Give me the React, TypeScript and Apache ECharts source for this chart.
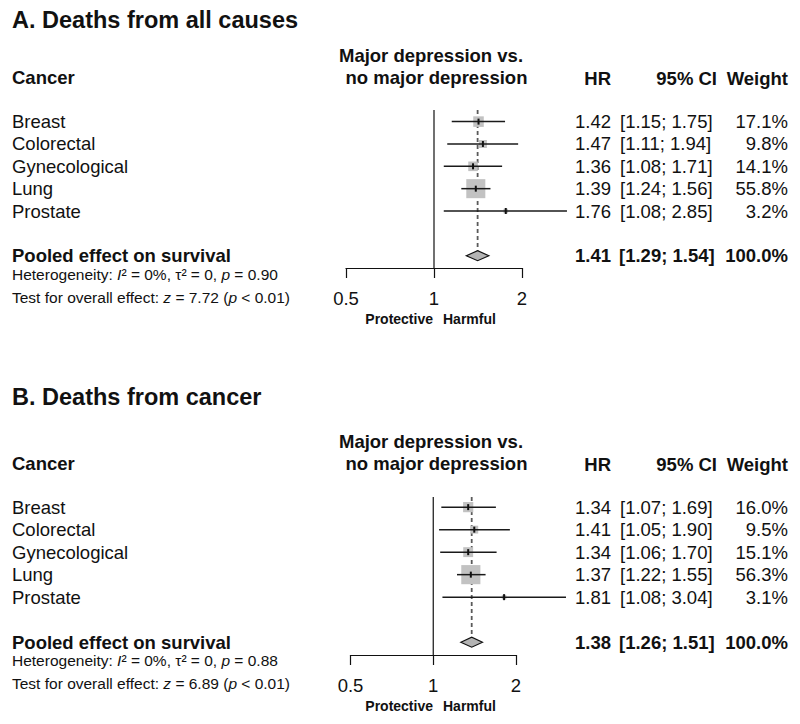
import React, { useEffect, useRef } from 'react';
import * as echarts from 'echarts';

// ---------- data ----------
const cancers = ['Breast', 'Colorectal', 'Gynecological', 'Lung', 'Prostate'];

const hrA = [1.42, 1.47, 1.36, 1.39, 1.76];
const lowA = [1.15, 1.11, 1.08, 1.24, 1.08];
const highA = [1.75, 1.94, 1.71, 1.56, 2.85];
const weightA = [17.1, 9.8, 14.1, 55.8, 3.2];
const pooledA = [1.41, 1.29, 1.54];
const hetA = ['0%', '0', '0.90'];
const testA = ['7.72', '< 0.01'];

const hrB = [1.34, 1.41, 1.34, 1.37, 1.81];
const lowB = [1.07, 1.05, 1.06, 1.22, 1.08];
const highB = [1.69, 1.90, 1.70, 1.55, 3.04];
const weightB = [16.0, 9.5, 15.1, 56.3, 3.1];
const pooledB = [1.38, 1.26, 1.51];
const hetB = ['0%', '0', '0.88'];
const testB = ['6.89', '< 0.01'];

const titles = ['A. Deaths from all causes', 'B. Deaths from cancer'];
const xRange = [0.5, 2];
const pooledRow = 6;

// ---------- layout ----------
const FONT = '"Liberation Sans", Arial, Helvetica, sans-serif';
const INK = '#111111';
const panels = [
  { left: 346, width: 176, top: 110, height: 158, yMin: -0.52, yMax: 6.55, dy: 0, titleY: 20 },
  { left: 350.5, width: 165.5, top: 497, height: 158, yMin: -0.45, yMax: 6.57, dy: 386.5, titleY: 397 },
];
const COL_HR = 611;
const COL_CI = 620;
const COL_W = 788;
const BODY = 18.5;

function txt(x: number, y: number, text: string, opts: any = {}) {
  return {
    type: 'text',
    x,
    y,
    style: {
      text,
      fill: INK,
      fontFamily: FONT,
      fontSize: opts.size || BODY,
      fontWeight: opts.bold ? 'bold' : 'normal',
      align: opts.align || 'left',
      verticalAlign: 'middle',
      textAlign: opts.align || 'left',
      textVerticalAlign: 'middle',
    },
    silent: true,
  };
}

function richLine(x: number, y: number, parts: [string, boolean][]) {
  const base = { fontFamily: FONT, fontSize: 15.5, fill: INK, fontStyle: 'normal' };
  const text = parts.map(([s, it]) => `{${it ? 'i' : 'n'}|${s}}`).join('');
  return {
    type: 'text',
    x,
    y,
    silent: true,
    style: {
      text,
      fontFamily: FONT,
      fontSize: 15.5,
      fill: INK,
      verticalAlign: 'middle',
      textVerticalAlign: 'middle',
      rich: {
        n: { ...base },
        i: { ...base, fontStyle: 'italic' },
      },
    },
  };
}

const fmt2 = (v: number) => v.toFixed(2);
const ciText = (l: number, h: number) => `[${fmt2(l)}; ${fmt2(h)}]`;

export default function App() {
  const ref = useRef<HTMLDivElement>(null);

  useEffect(() => {
    if (!ref.current) return;
    const chart = echarts.init(ref.current, undefined, { renderer: 'svg' });

    const sets = [
      { hr: hrA, low: lowA, high: highA, w: weightA, pooled: pooledA, het: hetA, test: testA },
      { hr: hrB, low: lowB, high: highB, w: weightB, pooled: pooledB, het: hetB, test: testB },
    ];

    const grid: any[] = [];
    const xAxis: any[] = [];
    const yAxis: any[] = [];
    const series: any[] = [];
    const graphic: any[] = [];

    sets.forEach((s, pi) => {
      const P = panels[pi];
      grid.push({ left: P.left, top: P.top, width: P.width, height: P.height, containLabel: false, outerBoundsMode: 'none' });
      xAxis.push({
        type: 'log',
        logBase: 2,
        gridIndex: pi,
        position: 'bottom',
        min: xRange[0],
        max: xRange[1],
        axisLine: { show: true, onZero: false, lineStyle: { color: INK, width: 1.2 } },
        axisTick: { show: true, length: 10, lineStyle: { color: INK, width: 1.2 } },
        minorTick: { show: false },
        splitLine: { show: false },
        axisLabel: {
          fontSize: BODY,
          fontFamily: FONT,
          color: INK,
          margin: 21,
          formatter: (v: number) => `${+(+v).toFixed(2)}`,
        },
      });
      yAxis.push({ type: 'value', gridIndex: pi, min: P.yMin, max: P.yMax, inverse: true, show: false });

      // reference line at 1 and dashed line at pooled estimate
      series.push({
        type: 'custom',
        xAxisIndex: pi,
        yAxisIndex: pi,
        clip: false,
        silent: true,
        z: 1,
        data: [[s.pooled[0], pooledRow]],
        renderItem: (params: any, api: any) => {
          const top1 = api.coord([1, P.yMin]);
          const bot1 = api.coord([1, P.yMax]);
          const topP = api.coord([api.value(0), P.yMin]);
          const botP = api.coord([api.value(0), api.value(1)]);
          return {
            type: 'group',
            children: [
              { type: 'line', shape: { x1: top1[0], y1: top1[1], x2: bot1[0], y2: bot1[1] }, style: { stroke: INK, lineWidth: 1.2 } },
              {
                type: 'line',
                shape: { x1: topP[0], y1: topP[1], x2: botP[0], y2: botP[1] - 5 },
                style: { stroke: '#5a5a5a', lineWidth: 1.8, lineDash: [4, 3] },
              },
            ],
          };
        },
      });

      // individual studies
      series.push({
        type: 'custom',
        xAxisIndex: pi,
        yAxisIndex: pi,
        clip: false,
        silent: true,
        z: 2,
        encode: { x: 0, y: 1 },
        data: cancers.map((c, k) => [s.hr[k], k, s.low[k], s.high[k], s.w[k]]),
        renderItem: (params: any, api: any) => {
          const k = params.dataIndex;
          const r = api.value(1);
          const p = api.coord([api.value(0), r]);
          const pl = api.coord([api.value(2), r]);
          const ph = api.coord([api.value(3), r]);
          const side = 2.55 * Math.sqrt(api.value(4));
          const y = p[1];
          return {
            type: 'group',
            children: [
              { type: 'rect', shape: { x: p[0] - side / 2, y: y - side / 2, width: side, height: side }, style: { fill: '#c2c2c2' } },
              { type: 'line', shape: { x1: pl[0], y1: y, x2: ph[0], y2: y }, style: { stroke: '#1a1a1a', lineWidth: 1.5 } },
              { type: 'rect', shape: { x: p[0] - 1, y: y - 3, width: 2, height: 6 }, style: { fill: '#111' } },
              txt(12, y, cancers[k]),
              txt(COL_HR, y, fmt2(s.hr[k]), { align: 'right' }),
              txt(COL_CI, y, ciText(s.low[k], s.high[k])),
              txt(COL_W, y, `${s.w[k].toFixed(1)}%`, { align: 'right' }),
            ],
          };
        },
      });

      // pooled estimate
      series.push({
        type: 'custom',
        xAxisIndex: pi,
        yAxisIndex: pi,
        clip: false,
        silent: true,
        z: 3,
        encode: { x: 0, y: 1 },
        data: [[s.pooled[0], pooledRow, s.pooled[1], s.pooled[2]]],
        renderItem: (params: any, api: any) => {
          const r = api.value(1);
          const p = api.coord([api.value(0), r]);
          const pl = api.coord([api.value(2), r]);
          const ph = api.coord([api.value(3), r]);
          const y = p[1];
          const h = 5;
          const total = s.w.reduce((a, b) => a + b, 0);
          return {
            type: 'group',
            children: [
              {
                type: 'polygon',
                shape: { points: [[pl[0], y], [p[0], y - h], [ph[0], y], [p[0], y + h]] },
                style: { fill: '#b4b4b4', stroke: INK, lineWidth: 1.2 },
              },
              txt(12, y, 'Pooled effect on survival', { bold: true }),
              txt(COL_HR, y, fmt2(s.pooled[0]), { align: 'right', bold: true }),
              txt(COL_CI - 1, y, ciText(s.pooled[1], s.pooled[2]), { bold: true }),
              txt(COL_W, y, `${Math.round(total).toFixed(1)}%`, { align: 'right', bold: true }),
            ],
          };
        },
      });

      const dy = P.dy;
      graphic.push(txt(12, P.titleY, titles[pi], { bold: true, size: 23.5 }));
      graphic.push(txt(12, 77 + dy, 'Cancer', { bold: true }));
      graphic.push(txt(431, 55 + dy, 'Major depression vs.', { bold: true, align: 'center' }));
      graphic.push(txt(436.5, 77 + dy, 'no major depression', { bold: true, align: 'center' }));
      graphic.push(txt(COL_HR, 78 + dy, 'HR', { bold: true, align: 'right' }));
      graphic.push(txt(717, 78 + dy, '95% CI', { bold: true, align: 'right' }));
      graphic.push(txt(COL_W, 78 + dy, 'Weight', { bold: true, align: 'right' }));
      graphic.push(
        richLine(12, 274 + dy, [
          ['Heterogeneity: ', false],
          ['I', true],
          [`² = ${s.het[0]}, τ² = ${s.het[1]}, `, false],
          ['p', true],
          [` = ${s.het[2]}`, false],
        ])
      );
      graphic.push(
        richLine(12, 297 + dy, [
          ['Test for overall effect: ', false],
          ['z', true],
          [` = ${s.test[0]} (`, false],
          ['p', true],
          [` ${s.test[1]})`, false],
        ])
      );
      graphic.push(txt(433, 319 + dy, 'Protective', { bold: true, size: 14, align: 'right' }));
      graphic.push(txt(443, 319 + dy, 'Harmful', { bold: true, size: 14 }));
    });

    chart.setOption({
      animation: false,
      backgroundColor: '#ffffff',
      grid,
      xAxis,
      yAxis,
      series,
      graphic: { elements: graphic },
    });

    return () => chart.dispose();
  }, []);

  return (
    <div
      ref={ref}
      style={{ position: 'absolute', left: 0, top: 0, width: 800, height: 724, background: '#fff' }}
    />
  );
}
